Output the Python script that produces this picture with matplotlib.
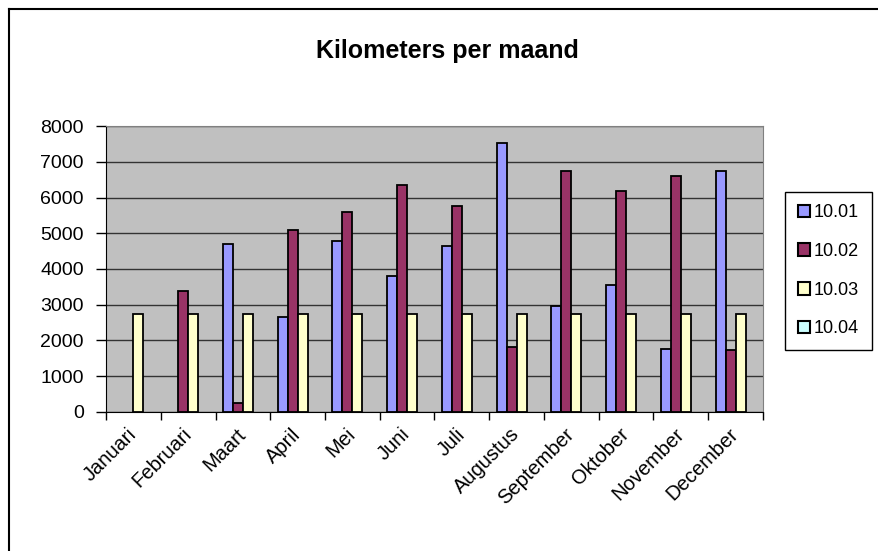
import matplotlib.pyplot as plt
from matplotlib.patches import Patch
from matplotlib.lines import Line2D
import numpy as np

months = ['Januari', 'Februari', 'Maart', 'April', 'Mei', 'Juni', 'Juli',
          'Augustus', 'September', 'Oktober', 'November', 'December']
series_names = ['10.01', '10.02', '10.03', '10.04']
v1001 = [0, 0, 4700, 2650, 4780, 3800, 4630, 7530, 2970, 3560, 1760, 6750]
v1002 = [0, 3380, 250, 5100, 5600, 6350, 5770, 1820, 6740, 6170, 6590, 1720]
v1003 = [2730, 2730, 2730, 2730, 2730, 2730, 2730, 2730, 2730, 2730, 2730, 2730]
v1004 = [0, 0, 0, 0, 0, 0, 0, 0, 0, 0, 0, 0]
colors = ['#9999FF', '#993366', '#FFFFCC', '#CCFFFF']

plt.rcParams['font.family'] = ['Liberation Sans', 'DejaVu Sans']

fig = plt.figure(figsize=(8.79, 5.51), dpi=100)
ax = fig.add_axes([0.1206, 0.2523, 0.868 - 0.1206, 0.7713 - 0.2523])
ax.set_facecolor('#C0C0C0')

w = 1 / 5.5
x = np.arange(len(months))
for j, (vals, c) in enumerate(zip([v1001, v1002, v1003, v1004], colors)):
    # empty bars get no outline, as in the original
    lws = [1.3 if v > 0 else 0 for v in vals]
    ax.bar(x + 0.75 * w + j * w, vals, width=w, align='edge', color=c,
           edgecolor='black', linewidth=lws, zorder=3)

ax.set_xlim(0, 12)
ax.set_ylim(0, 8000)
ax.set_yticks(range(0, 8001, 1000))
ax.set_xticks(range(0, 13))
ax.set_xticklabels([])
ax.set_xticks(x + 0.5, minor=True)
ax.set_xticklabels(months, minor=True, rotation=45, ha='right', va='center',
                   rotation_mode='anchor', fontsize=14.5)
ax.tick_params(axis='x', which='minor', length=0, pad=14)
ax.tick_params(axis='x', which='major', direction='out', length=6, width=1)
ax.tick_params(axis='y', direction='out', length=7, width=1, labelsize=14,
               pad=9)
ax.grid(axis='y', color='#333333', linewidth=1, zorder=1)
ax.set_axisbelow(True)
for s in ['top', 'right']:
    ax.spines[s].set_color('#808080')
for s in ['left', 'bottom']:
    ax.spines[s].set_color('black')

fig.text(0.509, 0.907, 'Kilometers per maand', ha='center', va='center',
         fontsize=18, fontweight='bold')

handles = [Patch(facecolor=c, edgecolor='black', linewidth=1.5) for c in colors]
leg = fig.legend(handles, series_names, loc='upper left',
                 bbox_to_anchor=(0.893, 0.652), fontsize=13,
                 handlelength=0.7, handleheight=0.7, handletextpad=0.2,
                 labelspacing=1.2, borderpad=0.7, borderaxespad=0,
                 fancybox=False, framealpha=1, edgecolor='black')
leg.get_frame().set_linewidth(1)

fig.add_artist(Line2D([0.0097, 0.0097], [0, 0.983], color='black', lw=1.5))
fig.add_artist(Line2D([0.0097, 1], [0.983, 0.983], color='black', lw=1.5))

fig.savefig('out.png', dpi=100)
